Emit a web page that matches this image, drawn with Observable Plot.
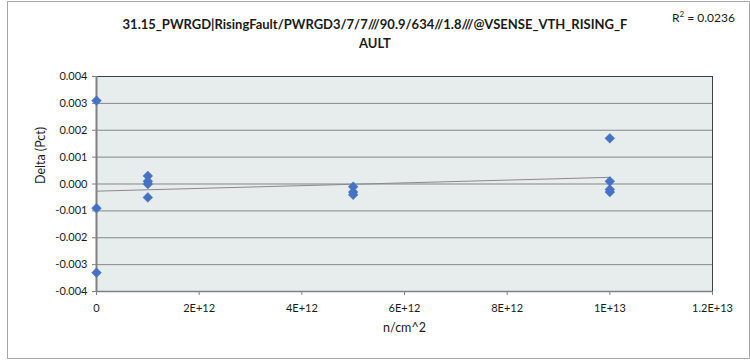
<!DOCTYPE html>
<html>
<head>
<meta charset="utf-8">
<script src="https://cdn.jsdelivr.net/npm/d3@7"></script>
<script src="https://cdn.jsdelivr.net/npm/@observablehq/plot@0.6"></script>
<style>
  html, body { margin: 0; padding: 0; background: #fff; }
  #wrap { position: relative; width: 750px; height: 360px; overflow: hidden; font-family: Lato, "Open Sans", sans-serif; }
  #border { position: absolute; left: 7px; top: 1px; width: 743px; height: 358px; border: 1px solid #a6a6a6; box-sizing: border-box; pointer-events: none; }
  #title { position: absolute; left: 0; width: 750px; top: 15px; text-align: center; font-weight: bold; font-size: 13px; line-height: 19px; color: #1a1a1a; }
  #r2 { position: absolute; left: 672px; top: 9px; font-size: 12px; color: #1a1a1a; }
  #r2 sup { font-size: 8px; }
  #chart { position: absolute; left: 0; top: 0; }
</style>
</head>
<body>
<div id="wrap">
  <div id="chart"></div>
  <div id="title"></div>
  <div id="r2"></div>
  <div id="border"></div>
</div>
<script>
// ---- data ----
const titleLines = ["31.15_PWRGD|RisingFault/PWRGD3/7/7///90.9/634//1.8///@VSENSE_VTH_RISING_F", "AULT"];
const r2Label = "0.0236";
const xLabel = "n/cm^2";
const yLabel = "Delta (Pct)";
const fluence = [0, 0, 0, 1e12, 1e12, 1e12, 1e12, 5e12, 5e12, 5e12, 1e13, 1e13, 1e13, 1e13];
const delta = [0.0031, -0.0009, -0.0033, 0.0003, 0.0001, 0.0000, -0.0005, -0.0001, -0.0003, -0.0004, 0.0017, 0.0001, -0.0002, -0.0003];
const xTicks = [0, 2e12, 4e12, 6e12, 8e12, 1e13, 1.2e13];
const xTickLabels = ["0", "2E+12", "4E+12", "6E+12", "8E+12", "1E+13", "1.2E+13"];
const yTicks = [-0.004, -0.003, -0.002, -0.001, 0, 0.001, 0.002, 0.003, 0.004];

const data = fluence.map((x, i) => ({x, y: delta[i]}));

document.getElementById("title").innerHTML = titleLines.join("<br>");
document.getElementById("r2").innerHTML = "R<sup>2</sup> = " + r2Label;

const xFmt = (d) => xTickLabels[xTicks.indexOf(d)] ?? "";
const yFmt = (d) => (Math.abs(d) < 1e-12 ? 0 : d).toFixed(3);

const chart = Plot.plot({
  width: 750,
  height: 360,
  marginLeft: 96,
  marginRight: 38,
  marginTop: 76,
  marginBottom: 69,
  style: { fontFamily: "Lato, 'Open Sans', sans-serif", fontSize: "11px", color: "#1a1a1a", background: "transparent" },
  x: { domain: [0, 1.2e13], ticks: xTicks, tickFormat: xFmt, label: null },
  y: { domain: [-0.004, 0.004], ticks: yTicks, tickFormat: yFmt, label: null },
  marks: [
    Plot.frame({ fill: "#e7ecec", stroke: null }),
    Plot.gridY(yTicks, { stroke: "#878787", strokeOpacity: 1, strokeWidth: 1 }),
    Plot.frame({ stroke: "#404040", strokeWidth: 1 }),
    Plot.ruleX([0], { stroke: "#808080", strokeWidth: 2 }),
    Plot.ruleY([-0.004], { stroke: "#808080", strokeWidth: 1.5 }),
    Plot.axisX({ ticks: xTicks, tickFormat: xFmt, tickSize: 4, tickPadding: 9, label: null, stroke: "#808080" }),
    Plot.axisY({ ticks: yTicks, tickFormat: yFmt, tickSize: 4, tickPadding: 5, label: null, stroke: "#808080" }),
    Plot.linearRegressionY(data, { x: "x", y: "y", ci: 0, stroke: "#8a8a8a", strokeWidth: 1 }),
    Plot.dot(data, { x: "x", y: "y", symbol: "diamond2", r: 4.4, fill: "#4472c4", stroke: "#4472c4", strokeWidth: 0.5 }),
    Plot.text([xLabel], { frameAnchor: "bottom", dy: 36, lineAnchor: "middle", fontSize: 12.5 }),
    Plot.text([yLabel], { frameAnchor: "left", dx: -56, rotate: -90, fontSize: 12.5 })
  ]
});
document.getElementById("chart").appendChild(chart);
</script>
</body>
</html>
